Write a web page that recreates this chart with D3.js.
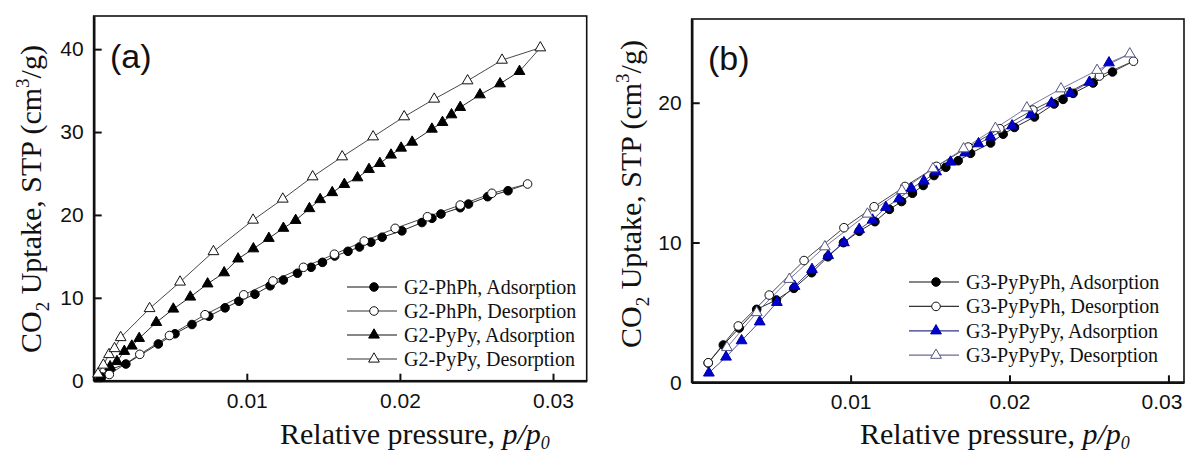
<!DOCTYPE html>
<html><head><meta charset="utf-8">
<script src="https://cdn.jsdelivr.net/npm/d3@7"></script>
<style>body{margin:0;background:#fff}svg{display:block}</style>
</head><body>
<svg id="chart" width="1186" height="455"></svg>
<script>
// ---------- DATA ----------
// Panel (a)
const phphAdsX = [0.00052,0.00107,0.0021,0.00422,0.00531,0.00642,0.00752,0.00858,0.00948,0.01053,0.01152,0.01239,0.01331,0.0142,0.01494,0.01574,0.01661,0.01736,0.0181,0.01884,0.02013,0.02144,0.02209,0.02268,0.02394,0.02448,0.02573,0.02706];
const phphAdsY = [0.45,1.35,2.01,4.43,5.66,6.78,7.78,8.79,9.58,10.43,11.45,12.15,12.97,13.68,14.28,15.04,15.61,16.13,16.71,17.31,18.08,19.08,19.59,20.11,20.87,21.31,22.20,22.92];
const phphDesX = [0.00102,0.00301,0.00495,0.00727,0.0098,0.01171,0.0137,0.01572,0.01767,0.01969,0.0218,0.02394,0.02601,0.02834];
const phphDesY = [0.75,3.18,5.45,7.96,10.36,12.03,13.68,15.26,16.85,18.38,19.78,21.19,22.61,23.73];
const pypyAdsX = [0.00041,0.00107,0.00152,0.002,0.00249,0.00297,0.00409,0.0052,0.00631,0.00744,0.00852,0.00943,0.01043,0.01144,0.01239,0.01319,0.01409,0.01479,0.01558,0.01637,0.01723,0.01798,0.01869,0.01942,0.02008,0.0208,0.02209,0.02278,0.02337,0.02394,0.02523,0.02654,0.02781];
const pypyAdsY = [0.39,1.69,2.32,3.55,4.19,5.11,7.04,8.65,10.10,11.69,13.03,14.70,15.92,17.18,18.40,19.35,20.77,21.86,22.70,23.69,24.49,25.50,26.22,27.23,28.07,28.79,30.36,31.17,32.09,32.98,34.50,35.83,37.32];
const pypyDesX = [0.00028,0.00063,0.0010,0.00136,0.00176,0.00365,0.00564,0.00782,0.01041,0.01235,0.0143,0.01623,0.01825,0.02028,0.02224,0.02442,0.02667,0.02917];
const pypyDesY = [0.81,1.89,3.16,3.88,5.21,8.71,11.91,15.58,19.38,21.92,24.61,27.02,29.43,31.85,33.98,36.19,38.68,40.17];
// Panel (b)
const g3phAdsX = [0.00104,0.00199,0.00299,0.00409,0.00533,0.00643,0.00755,0.00857,0.00955,0.01054,0.01153,0.01244,0.01321,0.01389,0.01457,0.01525,0.01599,0.01677,0.01755,0.01881,0.0196,0.02031,0.02157,0.02281,0.02337,0.024,0.02526,0.02648];
const g3phAdsY = [1.38,2.67,3.88,5.22,5.89,6.72,7.84,8.98,9.99,10.80,11.49,12.37,12.93,13.52,14.08,14.79,15.38,15.85,16.38,17.12,17.75,18.23,18.98,19.91,20.24,20.67,21.41,22.20];
const g3phDesX = [0.00104,0.00293,0.00488,0.00707,0.00958,0.01148,0.01342,0.01541,0.0174,0.01939,0.02147,0.02373,0.02566,0.0278];
const g3phDesY = [1.40,4.03,6.24,8.71,11.06,12.56,14.01,15.45,16.83,18.14,19.48,20.75,21.91,22.97];
const g3pyAdsX = [0.00108,0.00216,0.00314,0.00428,0.00536,0.00647,0.00757,0.00859,0.00958,0.01054,0.01138,0.01222,0.01305,0.01382,0.01461,0.01538,0.01629,0.01721,0.01805,0.01881,0.02016,0.02135,0.02264,0.02381,0.02503,0.02626];
const g3pyAdsY = [0.67,1.81,2.98,4.33,5.72,6.87,8.08,9.07,9.99,10.94,11.61,12.52,13.13,13.88,14.40,15.06,15.76,16.42,17.07,17.55,18.35,19.14,19.98,20.69,21.47,22.86];
const g3pyDesX = [0.00222,0.00409,0.00614,0.00838,0.01106,0.01323,0.01518,0.01711,0.01911,0.02109,0.02324,0.02551,0.02757];
const g3pyDesY = [2.49,4.99,7.37,9.70,12.04,13.72,15.28,16.71,18.17,19.64,21.00,22.32,23.50];

const legendA = ["G2-PhPh, Adsorption","G2-PhPh, Desorption","G2-PyPy, Adsorption","G2-PyPy, Desorption"];
const legendB = ["G3-PyPyPh, Adsorption","G3-PyPyPh, Desorption","G3-PyPyPy, Adsorption","G3-PyPyPy, Desorption"];
const xTicks = [0.01,0.02,0.03];
const yTicksA = [0,10,20,30,40];
const yTicksB = [0,10,20];
const panelLabels = ["(a)","(b)"];

// ---------- DRAW ----------
const SANS = "'Liberation Sans', Arial, sans-serif";
const SERIF = "'Liberation Serif', 'Times New Roman', serif";
const svg = d3.select("#chart");
svg.append("rect").attr("width",1186).attr("height",455).attr("fill","#fff");

const zip = (xs, ys) => xs.map((x,i)=>({x, y: ys[i]}));

function panel(cfg){
  const {x0,x1,y0,y1,xDom,yDom,yTicks,label,labelPos,series,legend,legendPos,ytitlePos,xtitlePos,lastTickShift} = cfg;
  const x = d3.scaleLinear().domain(xDom).range([x0,x1]);
  const y = d3.scaleLinear().domain(yDom).range([y0,y1]);
  const g = svg.append("g");

  // frame
  g.append("rect").attr("x",x0).attr("y",y1).attr("width",x1-x0).attr("height",y0-y1)
    .attr("fill","none").attr("stroke","#111").attr("stroke-width",1.6);

  const xa = g.append("g").attr("transform",`translate(0,${y0})`)
    .call(d3.axisBottom(x).tickValues(xTicks).tickSizeInner(-7).tickSizeOuter(0).tickPadding(12).tickFormat(d3.format(".2f")));
  const ya = g.append("g").attr("transform",`translate(${x0},0)`)
    .call(d3.axisLeft(y).tickValues(yTicks).tickSizeInner(-8).tickSizeOuter(0).tickPadding(10).tickFormat(d3.format("d")));
  [xa,ya].forEach(a=>{
    a.select(".domain").attr("stroke","#111").attr("stroke-width",2.6);
    a.selectAll(".tick line").attr("stroke","#111").attr("stroke-width",2);
    a.selectAll(".tick text").attr("font-family",SANS).attr("font-size",21).attr("fill","#111");
  });
  if (lastTickShift) {
    xa.selectAll(".tick text").filter(d=>d===xTicks[xTicks.length-1]).attr("dx",lastTickShift);
  }

  // series lines
  series.forEach(s=>{
    let pts = zip(s.xs, s.ys);
    if (s.joinTo) { const j = s.joinTo; pts = pts.concat([{x:j.xs[j.xs.length-1], y:j.ys[j.ys.length-1]}]); }
    g.append("path").datum(pts)
      .attr("d", d3.line().x(d=>x(d.x)).y(d=>y(d.y)))
      .attr("fill","none").attr("stroke",s.line).attr("stroke-width",0.9);
  });
  // markers
  series.forEach(s=>{
    const sym = d3.symbol().type(s.shape==="circle"?d3.symbolCircle:d3.symbolTriangle).size(s.shape==="circle"?58:50);
    g.selectAll(null).data(zip(s.xs,s.ys)).join("path")
      .attr("d", sym)
      .attr("transform", d=>`translate(${x(d.x)},${y(d.y)})`)
      .attr("fill", s.fill).attr("stroke", s.stroke).attr("stroke-width",1);
  });

  // panel label
  g.append("text").attr("x",labelPos[0]).attr("y",labelPos[1]).text(label)
    .attr("font-family",SANS).attr("font-size",34).attr("fill","#111");

  // legend
  legend.forEach((t,i)=>{
    const s = series[i];
    const cy = legendPos.y + i*legendPos.dy;
    g.append("line").attr("x1",legendPos.x).attr("x2",legendPos.x+50).attr("y1",cy).attr("y2",cy)
      .attr("stroke",s.line).attr("stroke-width",1.2);
    const sym = d3.symbol().type(s.shape==="circle"?d3.symbolCircle:d3.symbolTriangle).size(s.shape==="circle"?58:50);
    g.append("path").attr("d",sym).attr("transform",`translate(${legendPos.x+27},${cy})`)
      .attr("fill",s.fill).attr("stroke",s.stroke).attr("stroke-width",1);
    g.append("text").attr("x",legendPos.x+57).attr("y",cy+7).text(t)
      .attr("font-family",SERIF).attr("font-size",20).attr("fill","#111");
  });

  // y title
  const yt = g.append("text").attr("transform",`translate(${ytitlePos[0]},${ytitlePos[1]}) rotate(-90)`)
    .attr("font-family",SERIF).attr("font-size",30).attr("fill","#111");
  yt.append("tspan").text("CO");
  yt.append("tspan").text("2").attr("font-size",19).attr("dy",8);
  yt.append("tspan").text(" Uptake, STP (cm").attr("dy",-8);
  yt.append("tspan").text("3").attr("font-size",19).attr("dy",-12);
  yt.append("tspan").text("/g)").attr("dy",12);

  // x title
  const xt = g.append("text").attr("x",xtitlePos[0]).attr("y",xtitlePos[1])
    .attr("font-family",SERIF).attr("font-size",30).attr("fill","#111");
  xt.append("tspan").text("Relative pressure, ");
  xt.append("tspan").text("p/p").attr("font-style","italic");
  xt.append("tspan").text("0").attr("font-style","italic").attr("font-size",18).attr("dy",5);
}

panel({
  x0:93.7, x1:586.7, y0:380.7, y1:16, xDom:[0,0.0322], yDom:[0,44], yTicks:yTicksA,
  label:panelLabels[0], labelPos:[110,68],
  series:[
    {xs:phphAdsX, ys:phphAdsY, shape:"circle", fill:"#000", stroke:"#000", line:"#111"},
    {xs:phphDesX, ys:phphDesY, shape:"circle", fill:"#fff", stroke:"#111", line:"#333", joinTo:{xs:phphAdsX, ys:phphAdsY}},
    {xs:pypyAdsX, ys:pypyAdsY, shape:"triangle", fill:"#000", stroke:"#000", line:"#111"},
    {xs:pypyDesX, ys:pypyDesY, shape:"triangle", fill:"#fff", stroke:"#111", line:"#333", joinTo:{xs:pypyAdsX, ys:pypyAdsY}}
  ],
  legend:legendA, legendPos:{x:347, y:287, dy:24},
  ytitlePos:[41,353], xtitlePos:[280,444]
});

panel({
  x0:691.7, x1:1184, y0:382.3, y1:19, xDom:[0,0.03098], yDom:[0,25.99], yTicks:yTicksB,
  label:panelLabels[1], labelPos:[708,70],
  series:[
    {xs:g3phAdsX, ys:g3phAdsY, shape:"circle", fill:"#000", stroke:"#000", line:"#111"},
    {xs:g3phDesX, ys:g3phDesY, shape:"circle", fill:"#fff", stroke:"#111", line:"#333", joinTo:{xs:g3phAdsX, ys:g3phAdsY}},
    {xs:g3pyAdsX, ys:g3pyAdsY, shape:"triangle", fill:"#0000cc", stroke:"#0000aa", line:"#33338a"},
    {xs:g3pyDesX, ys:g3pyDesY, shape:"triangle", fill:"#fff", stroke:"#555580", line:"#6a6a9a", joinTo:{xs:g3pyAdsX, ys:g3pyAdsY}}
  ],
  legend:legendB, legendPos:{x:909, y:282, dy:24.4},
  ytitlePos:[641,348], xtitlePos:[860,444], lastTickShift:-7
});
</script>
</body></html>
